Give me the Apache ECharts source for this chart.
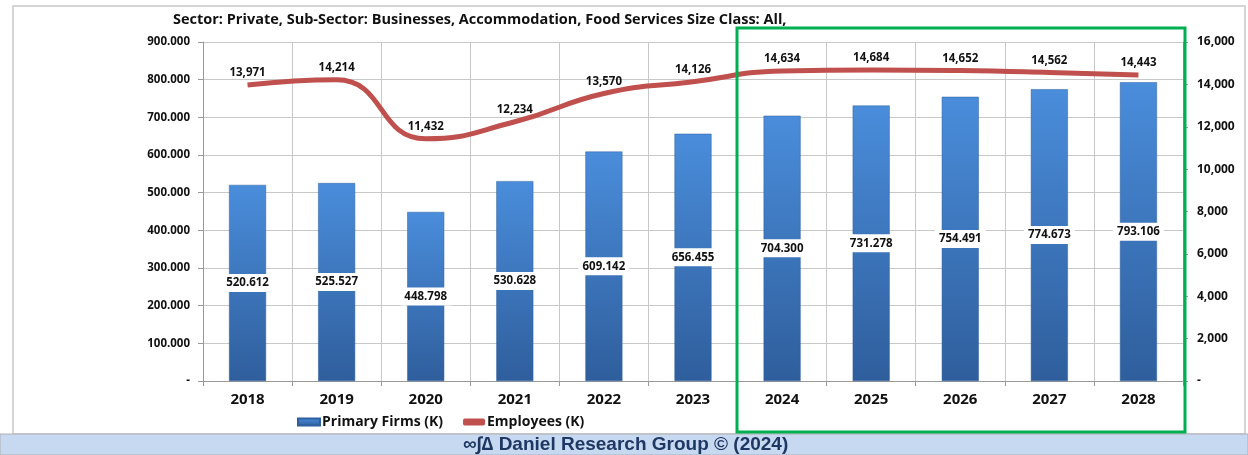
<!DOCTYPE html>
<html>
<head>
<meta charset="utf-8">
<script src="https://cdn.jsdelivr.net/npm/echarts@6/dist/echarts.min.js"></script>
<style>
  html, body { margin: 0; padding: 0; background: #fff; }
  #chartMain { width: 1248px; height: 455px; }
</style>
</head>
<body>
<!-- chart container -->
<div id="chartMain"></div>
<script>
var years = ["2018", "2019", "2020", "2021", "2022", "2023", "2024", "2025", "2026", "2027", "2028"];
var firms = [520.612, 525.527, 448.798, 530.628, 609.142, 656.455, 704.3, 731.278, 754.491, 774.673, 793.106];
var employees = [13971, 14214, 11432, 12234, 13570, 14126, 14634, 14684, 14652, 14562, 14443];

var titleText = "Sector: Private, Sub-Sector: Businesses, Accommodation, Food Services Size Class: All,";
var footerText = "\u221e\u222b\u2206 Daniel Research Group \u00a9 (2024)";

function commas(v) {
  return String(Math.round(v)).replace(/\B(?=(\d{3})+(?!\d))/g, ",");
}

var font = "'Open Sans', 'Liberation Sans', sans-serif";
var chart = echarts.init(document.getElementById("chartMain"));

chart.setOption({
  animation: false,
  textStyle: { fontFamily: font },
  title: {
    text: titleText,
    left: 168,
    top: 7,
    textStyle: { fontSize: 14.5, fontWeight: "bold", color: "#111", fontFamily: font }
  },
  legend: {
    left: 292,
    top: 410,
    itemWidth: 22,
    itemHeight: 7,
    itemGap: 20,
    textStyle: { fontSize: 14, fontWeight: "bold", color: "#111", padding: [0, 0, 0, -3] },
    data: [
      { name: "Primary Firms (K)", icon: "rect" },
      { name: "Employees (K)", icon: "roundRect", itemStyle: { color: "#c0504d" } }
    ]
  },
  grid: { left: 203, right: 65, top: 42, bottom: 74 },
  xAxis: {
    type: "category",
    data: years,
    axisTick: { show: true, lineStyle: { color: "#999" } },
    axisLine: { lineStyle: { color: "#999" } },
    axisLabel: { fontSize: 15, fontWeight: "bold", color: "#111", margin: 11 },
    splitLine: { show: true, lineStyle: { color: "#c8c8c8" } }
  },
  yAxis: [
    {
      type: "value",
      min: 0,
      max: 900,
      interval: 100,
      axisLine: { show: true, lineStyle: { color: "#999" } },
      axisTick: { show: true, lineStyle: { color: "#999" } },
      axisLabel: {
        fontSize: 11.5,
        fontWeight: "bold",
        color: "#111",
        margin: 13,
        formatter: function (v) { return v === 0 ? "-" : v.toFixed(3); }
      },
      splitLine: { lineStyle: { color: "#c8c8c8" } }
    },
    {
      type: "value",
      min: 0,
      max: 16000,
      interval: 2000,
      position: "right",
      axisLine: { show: true, lineStyle: { color: "#999" } },
      axisTick: { show: true, lineStyle: { color: "#999" } },
      axisLabel: {
        fontSize: 12,
        fontWeight: "bold",
        color: "#111",
        margin: 14,
        formatter: function (v) { return v === 0 ? "-" : commas(v); }
      },
      splitLine: { show: false }
    }
  ],
  series: [
    {
      name: "Primary Firms (K)",
      type: "bar",
      barWidth: 37,
      data: firms,
      itemStyle: {
        color: new echarts.graphic.LinearGradient(0, 0, 0, 1, [
          { offset: 0, color: "#4a8ddb" },
          { offset: 1, color: "#2f5e9c" }
        ]),
        borderColor: "#2f5f9e",
        borderWidth: 0.5
      },
      label: {
        show: true,
        position: "inside",
        fontSize: 11.5,
        fontWeight: "bold",
        color: "#111",
        backgroundColor: "#fff",
        padding: [3, 4],
        formatter: function (p) { return p.value.toFixed(3); }
      }
    },
    {
      name: "Employees (K)",
      type: "line",
      yAxisIndex: 1,
      smooth: 0.5,
      symbol: "circle",
      symbolSize: 0.1,
      data: employees,
      lineStyle: { color: "#c0504d", width: 5 },
      itemStyle: { color: "#c0504d" },
      label: {
        show: true,
        position: "top",
        distance: 6,
        fontSize: 11.5,
        fontWeight: "bold",
        color: "#111",
        formatter: function (p) { return commas(p.value); }
      }
    }
  ],
  graphic: [
    {
      type: "rect",
      shape: { x: 13, y: 6, width: 1232, height: 428 },
      style: { fill: "none", stroke: "#c8c8c8", lineWidth: 1.5 },
      z: -1
    },
    {
      type: "rect",
      shape: { x: 0, y: 434, width: 1248, height: 21 },
      style: { fill: "#c6d9f1", stroke: "#b0b0b0", lineWidth: 1 },
      z: -1
    },
    {
      type: "text",
      left: 463,
      top: 435,
      style: {
        text: footerText,
        fill: "#1f3763",
        font: "bold 19px 'Liberation Sans', Arial, sans-serif"
      }
    },
    {
      type: "rect",
      shape: { x: 737, y: 28, width: 448, height: 404 },
      style: { fill: "none", stroke: "#00b050", lineWidth: 3 },
      z: 10
    }
  ]
});
</script>
</body>
</html>
